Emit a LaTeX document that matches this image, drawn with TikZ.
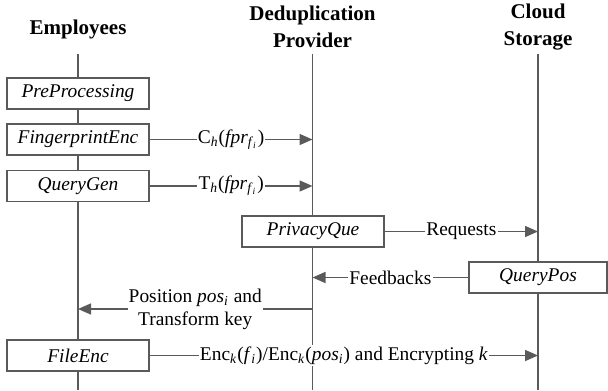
\documentclass[tikz,border=0pt]{standalone}
\usepackage{fontspec}
\setmainfont{Liberation Serif}
\usetikzlibrary{arrows.meta, positioning, calc}
\definecolor{lnc}{HTML}{5A5A5A}

\begin{document}
\begin{tikzpicture}[x=0.5pt, y=-0.5pt, line width=0.75pt,
      >={Triangle[length=6.5pt, width=5.5pt]},
      actor/.style={font=\fontsize{10.5}{13.5}\selectfont\bfseries, align=center},
      life/.style={draw=lnc, line width=0.7pt},
      proc/.style={draw=lnc, fill=white, minimum width=71pt, minimum height=15.5pt,
                   inner sep=0pt, font=\fontsize{9.7}{11.6}\selectfont\itshape},
      msg/.style={fill=white, inner xsep=0.6pt, inner ysep=1pt, align=center,
                  font=\fontsize{9.7}{11.6}\selectfont},
      call/.style={draw=lnc, ->}]
    \useasboundingbox (0,0) rectangle (608,390);
    % parties and their lifelines
    \node[actor] (emp) at (78,29) {Employees};
    \node[actor] (prv) at (312.5,27) {Deduplication\\Provider};
    \node[actor] (cld) at (538,27) {Cloud\\Storage};
    \coordinate (empTop) at (78,54);   \coordinate (empBot) at (78,390);
    \coordinate (prvTop) at (312.5,54); \coordinate (prvBot) at (312.5,390);
    \coordinate (cldTop) at (538,54);  \coordinate (cldBot) at (538,390);
    \draw[life] (empTop)--(empBot);
    \draw[life] (prvTop)--(prvBot);
    \draw[life] (cldTop)--(cldBot);
    % steps
    \node[proc] (pre) at (78,93.5) {PreProcessing};
    \node[proc] (fpe) at (78,139.5) {FingerprintEnc};
    \node[proc] (qgen) at (78,186) {QueryGen};
    \node[proc] (pque) at (313,231.5) {PrivacyQue};
    \node[proc, minimum width=69pt] (qpos) at (538,277.5) {QueryPos};
    \node[proc] (fenc) at (78,355.5) {FileEnc};
    \coordinate (posFrom) at (312.5,309);
    % messages
    \draw[call] (fpe.east)--(fpe.east -| prvTop)
      node[msg, midway] (chm) {C\textsubscript{\textit{h}}(\textit{fpr}\textsubscript{\textit{f}\textsubscript{\textit{i}}})};
    \draw[call] (qgen.east)--(qgen.east -| prvTop)
      node[msg, midway] (thm) {T\textsubscript{\textit{h}}(\textit{fpr}\textsubscript{\textit{f}\textsubscript{\textit{i}}})};
    \draw[call] (pque.east)--(pque.east -| cldTop)
      node[msg, midway] (req) {Requests};
    \draw[call] (qpos.west)--(qpos.west -| prvTop)
      node[msg, midway] (fbk) {Feedbacks};
    \draw[call] (posFrom)--(posFrom -| empTop)
      node[msg, midway] (pkey) {Position \textit{pos}\textsubscript{\textit{i}} and\\Transform key};
    \draw[call] (fenc.east)--(fenc.east -| cldTop)
      node[msg, midway] (encm) {Enc\textsubscript{\textit{k}}(\textit{f}\textsubscript{\textit{i}})/Enc\textsubscript{\textit{k}}(\textit{pos}\textsubscript{\textit{i}}) and Encrypting \textit{k}};
  \end{tikzpicture}
\end{document}
